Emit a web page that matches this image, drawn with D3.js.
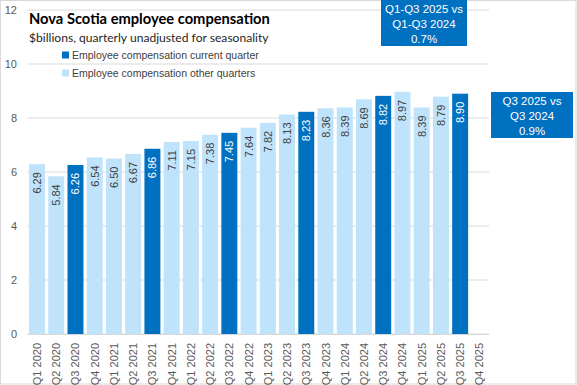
<!DOCTYPE html>
<html><head><meta charset="utf-8">
<script src="https://cdn.jsdelivr.net/npm/d3@7"></script>
<style>body{margin:0;background:#fff}svg{display:block}</style>
</head><body>
<script>
const categories = ["Q1 2020","Q2 2020","Q3 2020","Q4 2020","Q1 2021","Q2 2021","Q3 2021","Q4 2021","Q1 2022","Q2 2022","Q3 2022","Q4 2022","Q1 2023","Q2 2023","Q3 2023","Q4 2023","Q1 2024","Q2 2024","Q3 2024","Q4 2024","Q1 2025","Q2 2025","Q3 2025","Q4 2025"];
const values = [6.29,5.84,6.26,6.54,6.50,6.67,6.86,7.11,7.15,7.38,7.45,7.64,7.82,8.13,8.23,8.36,8.39,8.69,8.82,8.97,8.39,8.79,8.90,null];
const currentQuarter = "Q3";
const yTicks = [0,2,4,6,8,10,12];
const title = "Nova Scotia employee compensation";
const subtitle = "$billions, quarterly unadjusted for seasonality";
const legendLabels = ["Employee compensation current quarter","Employee compensation other quarters"];
const note1 = ["Q1-Q3 2025 vs","Q1-Q3 2024","0.7%"];
const note2 = ["Q3 2025 vs","Q3 2024","0.9%"];

const W = 577, H = 385;
const dark = "#0070C0", light = "#BFE3FB";
const svg = d3.select("body").append("svg").attr("width", W).attr("height", H);
svg.append("rect").attr("x",0.5).attr("y",0.5).attr("width",W-1.5).attr("height",H-1.5).attr("fill","#fff").attr("stroke","#D9D9D9");

const x = d3.scaleBand().domain(categories).range([27.4, 489]).paddingInner(0.17).paddingOuter(0.085);
const y = d3.scaleLinear().domain([0,12]).range([334, 10]);

const g = svg.append("g");
g.selectAll("line.grid").data(yTicks).join("line")
  .attr("x1", 27.4).attr("x2", 489).attr("y1", d=>y(d)).attr("y2", d=>y(d))
  .attr("stroke", "#D9D9D9").attr("stroke-width", 1);

const yAxis = d3.axisLeft(y).tickValues(yTicks).tickSize(0).tickPadding(0);
const ya = svg.append("g").attr("transform","translate(17,0)").call(yAxis);
ya.select(".domain").remove();
ya.selectAll("text").attr("font-family","Liberation Sans, Arial, sans-serif").attr("font-size",11).attr("fill","#595959");

const data = categories.map((c,i)=>({c, v: values[i]})).filter(d=>d.v!=null);
g.selectAll("rect.bar").data(data).join("rect")
  .attr("x", d=>x(d.c)).attr("width", x.bandwidth())
  .attr("y", d=>y(d.v)).attr("height", d=>y(0)-y(d.v))
  .attr("fill", d=>d.c.startsWith(currentQuarter) ? dark : light);

g.selectAll("text.lbl").data(data).join("text")
  .attr("transform", d=>`translate(${x(d.c)+x.bandwidth()/2+4},${y(d.v)+8}) rotate(-90)`)
  .attr("text-anchor","end")
  .attr("font-family","Liberation Sans, Arial, sans-serif").attr("font-size",11)
  .attr("fill", d=>d.c.startsWith(currentQuarter) ? "#fff" : "#404040")
  .text(d=>d.v.toFixed(2));

const xAxis = d3.axisBottom(x).tickSize(0).tickPadding(0);
const xa = svg.append("g").attr("transform",`translate(0,${y(0)})`).call(xAxis);
xa.select(".domain").attr("stroke","#D9D9D9");
xa.selectAll("text")
  .attr("transform","translate(4,9) rotate(-90)")
  .attr("text-anchor","end").attr("dy",0).attr("y",0).attr("x",0)
  .attr("font-family","Liberation Sans, Arial, sans-serif").attr("font-size",11).attr("fill","#595959");

svg.append("text").attr("x",29).attr("y",24).text(title)
  .attr("font-family","Lato, sans-serif").attr("font-weight","bold").attr("font-size",14.7).attr("fill","#000");
svg.append("text").attr("x",29).attr("y",42).text(subtitle)
  .attr("font-family","Lato, sans-serif").attr("font-size",12.1).attr("fill","#262626");

const lg = svg.append("g");
legendLabels.forEach((t,i)=>{
  const yy = 55 + i*18;
  lg.append("rect").attr("x",62).attr("y",yy-3.5).attr("width",7).attr("height",7).attr("fill", i===0?dark:light);
  lg.append("text").attr("x",72).attr("y",yy+4).text(t)
    .attr("font-family","Liberation Sans, Arial, sans-serif").attr("font-size",10.5).attr("fill","#404040");
});

function note(lines, x0, y0, w, h){
  svg.append("rect").attr("x",x0).attr("y",y0).attr("width",w).attr("height",h).attr("fill",dark);
  lines.forEach((t,i)=>{
    svg.append("text").attr("x",x0+w/2).attr("y",y0+13+i*15).attr("text-anchor","middle").text(t)
      .attr("font-family","Liberation Sans, Arial, sans-serif").attr("font-size",11.5).attr("fill","#fff");
  });
}
note(note1, 381, 0, 86, 46);
note(note2, 491, 92, 82, 46);
</script>
</body></html>
